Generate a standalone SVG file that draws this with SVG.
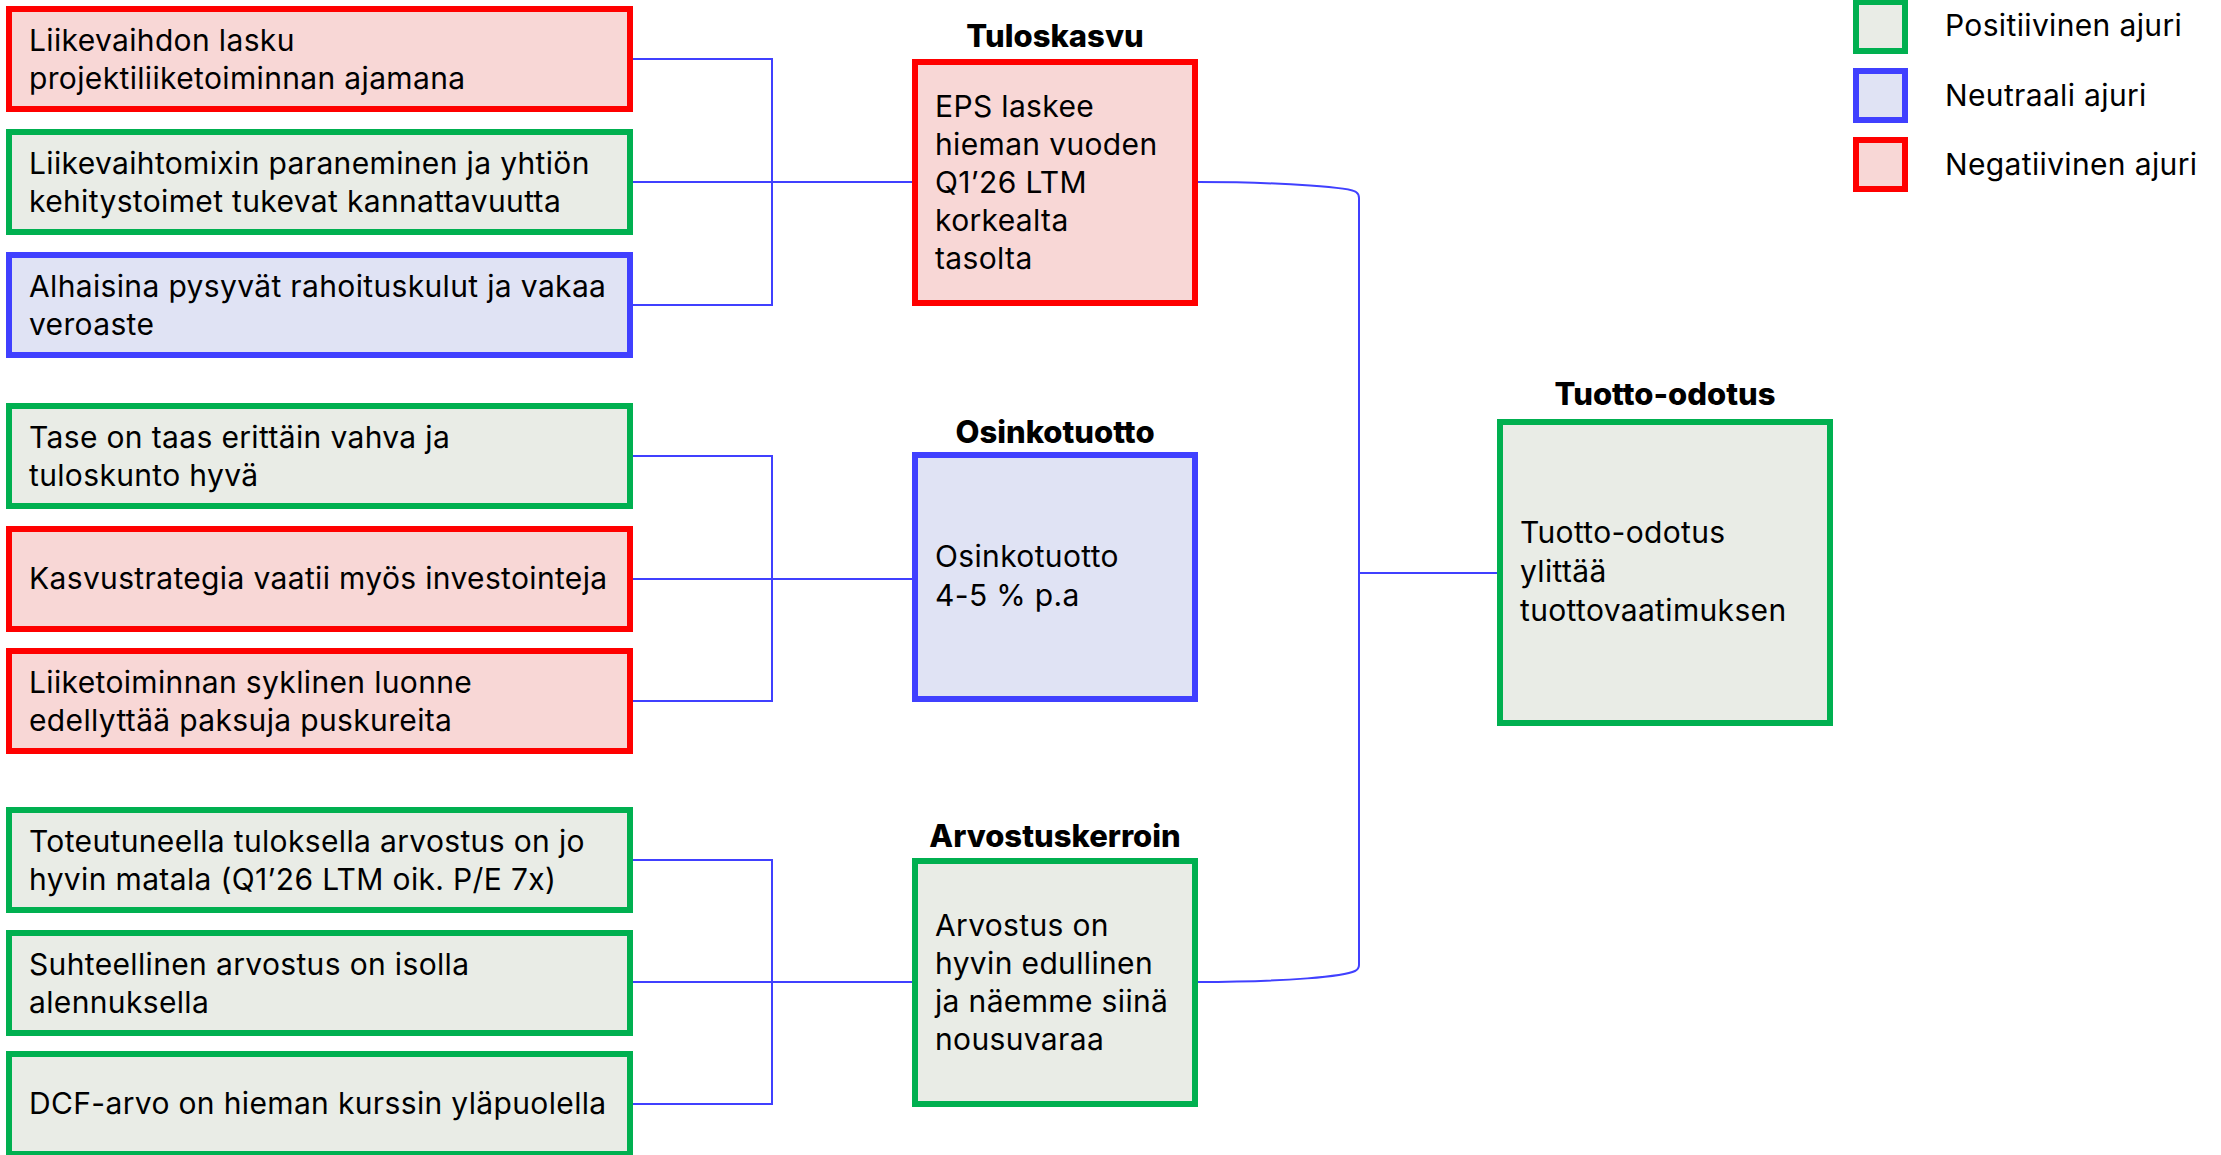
<svg xmlns="http://www.w3.org/2000/svg" width="2221" height="1155" viewBox="0 0 2221 1155">
<style>
  .pos { fill: #E9ECE6; stroke: #00B050; stroke-width: 6; }
  .neu { fill: #E0E3F4; stroke: #4040FF; stroke-width: 6; }
  .neg { fill: #F8D7D6; stroke: #FF0000; stroke-width: 6; }
  .t { font-family: Inter, "Liberation Sans", sans-serif; font-size: 30px; fill: #000; letter-spacing: 0.35px; }
  .h { font-family: Inter, "Liberation Sans", sans-serif; font-size: 31px; font-weight: 800; fill: #000; text-anchor: middle; }
  .c { fill: none; stroke: #4040FF; stroke-width: 2; }
</style>
<rect width="2221" height="1155" fill="#fff"/>

<g id="connectors">
  <path class="c" d="M633,59 H772 V305 H633 M633,182 H912"/>
  <path class="c" d="M633,456 H772 V701 H633 M633,579 H912"/>
  <path class="c" d="M633,860 H772 V1104 H633 M633,982 H912"/>
  <path class="c" d="M1198,182 C1290,182 1352,188 1356,192 Q1359,194 1359,198 V965 Q1359,969 1355,971 C1345,976 1290,982 1198,982"/>
  <path class="c" d="M1359,573 H1497"/>
</g>

<g id="legend">
  <rect class="pos" x="1856" y="2" width="49" height="49"/>
  <text class="t" x="1945" y="36">Positiivinen ajuri</text>
  <rect class="neu" x="1856" y="71" width="49" height="49"/>
  <text class="t" x="1945" y="106">Neutraali ajuri</text>
  <rect class="neg" x="1856" y="140" width="49" height="49"/>
  <text class="t" x="1945" y="175">Negatiivinen ajuri</text>
</g>

<g id="n1"><rect class="neg" x="9" y="9" width="621" height="100"/>
  <text class="t" x="29" y="51">Liikevaihdon lasku</text><text class="t" x="29" y="89">projektiliiketoiminnan ajamana</text></g>
<g id="n2"><rect class="pos" x="9" y="132" width="621" height="100"/>
  <text class="t" x="29" y="174">Liikevaihtomixin paraneminen ja yhtiön</text><text class="t" x="29" y="212">kehitystoimet tukevat kannattavuutta</text></g>
<g id="n3"><rect class="neu" x="9" y="255" width="621" height="100"/>
  <text class="t" x="29" y="297">Alhaisina pysyvät rahoituskulut ja vakaa</text><text class="t" x="29" y="335">veroaste</text></g>

<g id="n4"><rect class="pos" x="9" y="406" width="621" height="100"/>
  <text class="t" x="29" y="448">Tase on taas erittäin vahva ja</text><text class="t" x="29" y="486">tuloskunto hyvä</text></g>
<g id="n5"><rect class="neg" x="9" y="529" width="621" height="100"/>
  <text class="t" x="29" y="589">Kasvustrategia vaatii myös investointeja</text></g>
<g id="n6"><rect class="neg" x="9" y="651" width="621" height="100"/>
  <text class="t" x="29" y="693">Liiketoiminnan syklinen luonne</text><text class="t" x="29" y="731">edellyttää paksuja puskureita</text></g>

<g id="n7"><rect class="pos" x="9" y="810" width="621" height="100"/>
  <text class="t" x="29" y="852">Toteutuneella tuloksella arvostus on jo</text><text class="t" x="29" y="890">hyvin matala (Q1’26 LTM oik. P/E 7x)</text></g>
<g id="n8"><rect class="pos" x="9" y="933" width="621" height="100"/>
  <text class="t" x="29" y="975">Suhteellinen arvostus on isolla</text><text class="t" x="29" y="1013">alennuksella</text></g>
<g id="n9"><rect class="pos" x="9" y="1054" width="621" height="100"/>
  <text class="t" x="29" y="1114">DCF-arvo on hieman kurssin yläpuolella</text></g>

<g id="tuloskasvu">
  <text class="h" x="1055" y="47">Tuloskasvu</text>
  <rect class="neg" x="915" y="62" width="280" height="241"/>
  <text class="t" x="935" y="117">EPS laskee</text>
  <text class="t" x="935" y="155">hieman vuoden</text>
  <text class="t" x="935" y="193">Q1’26 LTM</text>
  <text class="t" x="935" y="231">korkealta</text>
  <text class="t" x="935" y="269">tasolta</text>
</g>
<g id="osinkotuotto">
  <text class="h" x="1055" y="443">Osinkotuotto</text>
  <rect class="neu" x="915" y="455" width="280" height="244"/>
  <text class="t" x="935" y="567">Osinkotuotto</text>
  <text class="t" x="935" y="606">4-5 % p.a</text>
</g>
<g id="arvostuskerroin">
  <text class="h" x="1055" y="847">Arvostuskerroin</text>
  <rect class="pos" x="915" y="861" width="280" height="243"/>
  <text class="t" x="935" y="936">Arvostus on</text>
  <text class="t" x="935" y="974">hyvin edullinen</text>
  <text class="t" x="935" y="1012">ja näemme siinä</text>
  <text class="t" x="935" y="1050">nousuvaraa</text>
</g>
<g id="tuotto-odotus">
  <text class="h" x="1665" y="405">Tuotto-odotus</text>
  <rect class="pos" x="1500" y="422" width="330" height="301"/>
  <text class="t" x="1520" y="543">Tuotto-odotus</text>
  <text class="t" x="1520" y="582">ylittää</text>
  <text class="t" x="1520" y="621">tuottovaatimuksen</text>
</g>
</svg>
